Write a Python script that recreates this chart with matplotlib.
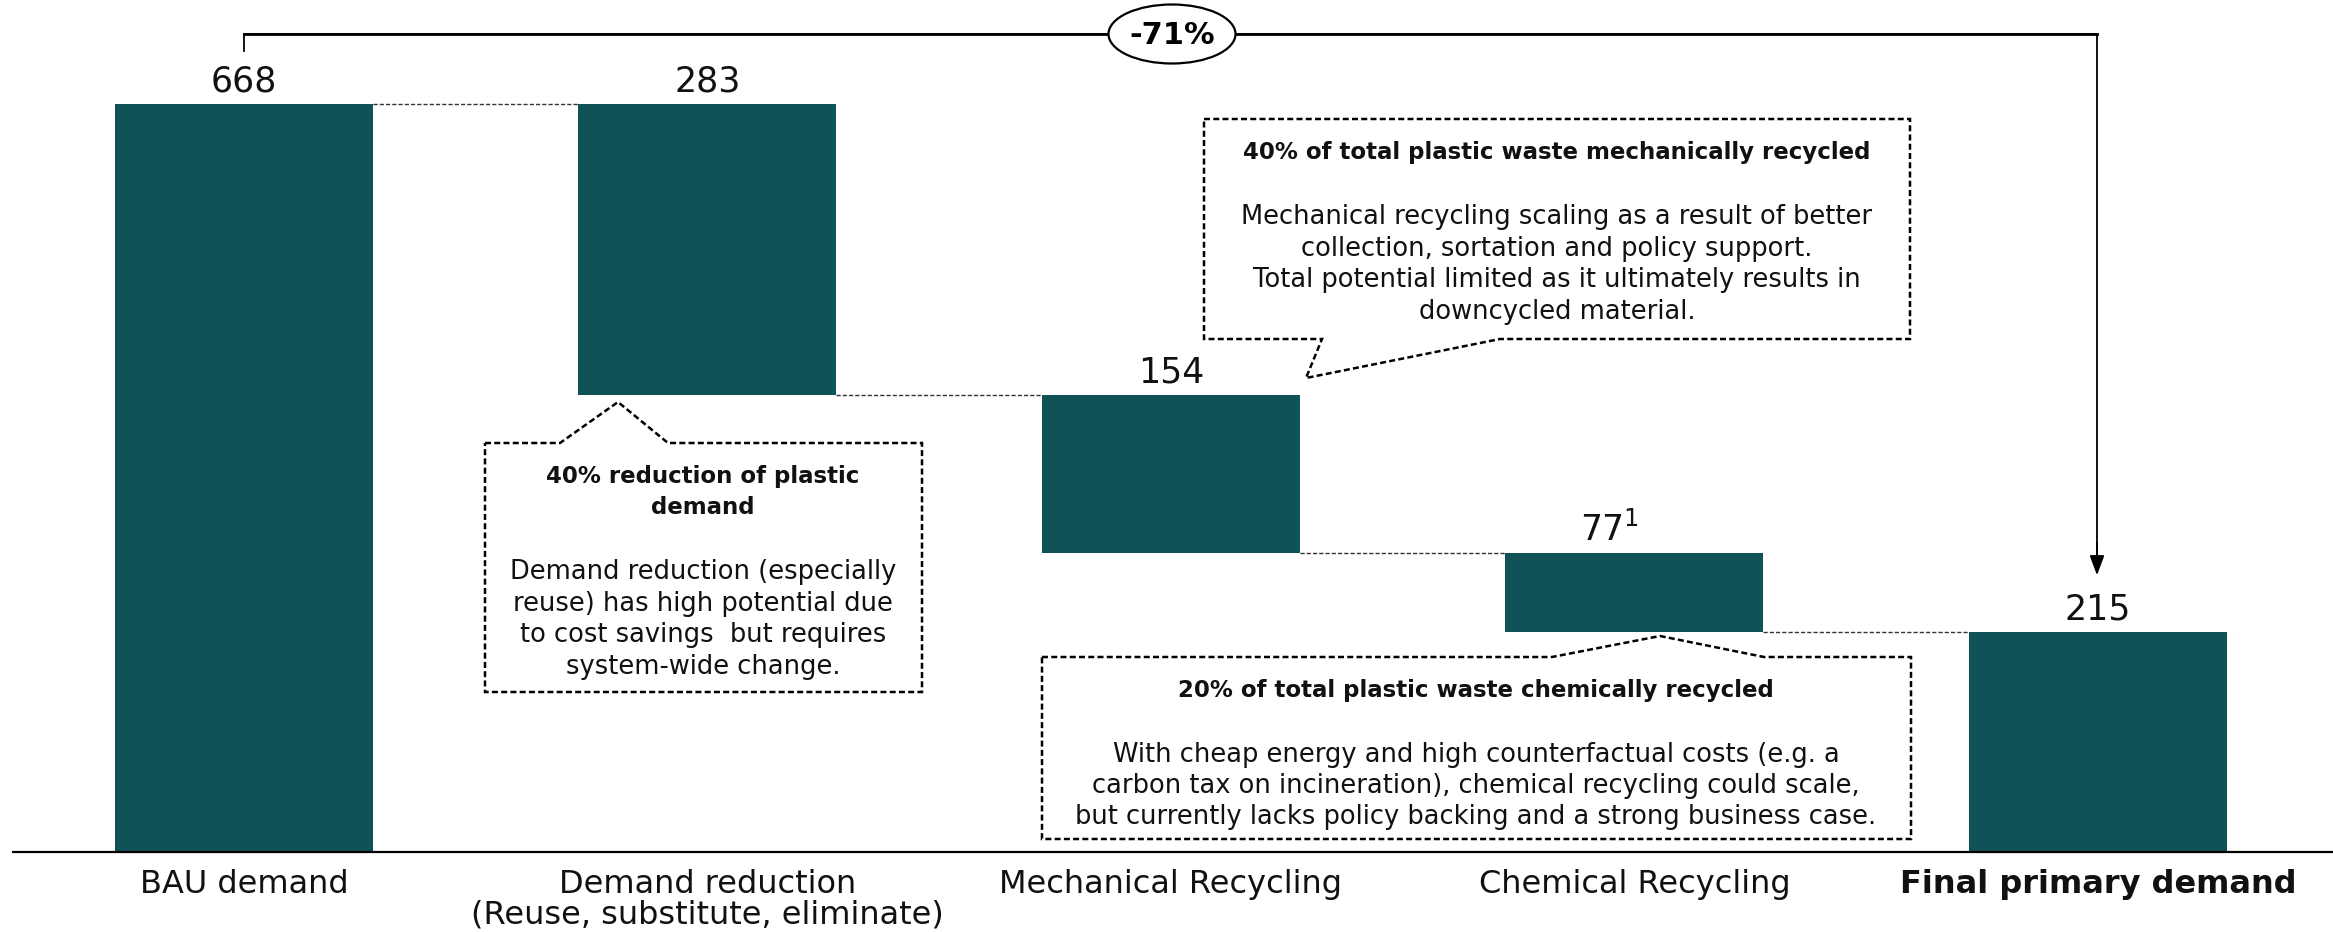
import matplotlib
matplotlib.use("Agg")
import matplotlib.pyplot as plt
from matplotlib.patches import Polygon, Ellipse
from matplotlib.transforms import blended_transform_factory

plt.rcParams['font.family'] = ['DejaVu Sans']

# data (bar levels are as drawn, labels as printed)
categories = ["BAU demand", "Demand reduction\n(Reuse, substitute, eliminate)",
              "Mechanical Recycling", "Chemical Recycling", "Final primary demand"]
value_labels = ["668", "283", "154", "77$^{1}$", "215"]
bar_tops = [668, 668, 408, 267, 196.5]
bar_bottoms = [0, 408, 267, 196.5, 0]
total_change = "-71%"

TEAL = '#0f5257'
W, H = 2333, 932

fig = plt.figure(figsize=(W / 100, H / 100), dpi=100)
ax = fig.add_axes([0, 0, 1, 1])
ax.set_xlim(-244 / 463.5, (W - 244) / 463.5)
ax.set_ylim(-80 / 1.1198, 852 / 1.1198)
ax.axis('off')

# overlay in pixel coords for the callouts
ov = fig.add_axes([0, 0, 1, 1], zorder=3)
ov.set_xlim(0, W)
ov.set_ylim(H, 0)
ov.axis('off')
ov.patch.set_alpha(0)

xs = list(range(len(categories)))
heights = [t - b for t, b in zip(bar_tops, bar_bottoms)]
bw = 258 / 463.5
ax.bar(xs, heights, bottom=bar_bottoms, width=bw, color=TEAL, zorder=2)

# connectors
for i in range(len(xs) - 1):
    lvl = bar_tops[i] if bar_bottoms[i] == 0 else bar_bottoms[i]
    ax.plot([xs[i] + bw / 2, xs[i + 1] - bw / 2], [lvl, lvl], color='#333333',
            lw=1.0, linestyle=(0, (3, 1.5)), zorder=1)

# value labels
x_shift = [0, 0, 0, -18, 0]
for i, lab in enumerate(value_labels):
    ax.annotate(lab, (xs[i], bar_tops[i]), xytext=(x_shift[i], 9), textcoords='offset points',
                ha='center', va='baseline', fontsize=25, color='#111111')

# baseline
ov.plot([12, W], [852, 852], color='black', lw=1.6, solid_capstyle='butt')

# category labels
bt = blended_transform_factory(ax.transData, ov.transData)
for i, c in enumerate(categories):
    bold = (i == len(categories) - 1)
    for k, line in enumerate(c.split('\n')):
        ax.text(xs[i], 893 + k * 31, line, transform=bt, ha='center', va='baseline',
                fontsize=23, fontweight='bold' if bold else 'normal', color='#111111')

# bracket with total change
x0 = 244
x1 = 2097
ov.plot([x0, x0, x1, x1], [51, 34, 34, 560], color='black', lw=1.3, zorder=2)
ov.plot([x0, x1], [34, 34], color='black', lw=2.0, zorder=2)
ov.annotate('', xy=(x1, 578), xytext=(x1, 540),
            arrowprops=dict(arrowstyle='-|>,head_length=1.2,head_width=0.45', color='black', lw=1.3))
ov.add_patch(Ellipse((1172, 34), 127, 59, facecolor='white', edgecolor='black', lw=1.6, zorder=4))
ov.text(1172, 35, total_change, ha='center', va='center', fontsize=22, fontweight='bold', zorder=5)

# callouts
dash = (0, (2.4, 1.3))


def callout(verts, title_lines, title_y, body_lines, body_y, pitch, cx):
    ov.add_patch(Polygon(verts, closed=True, facecolor='white', edgecolor='black',
                         lw=1.8, linestyle=dash, zorder=2))
    for k, t in enumerate(title_lines):
        ov.text(cx, title_y + k * 30, t, ha='center', va='center', fontsize=16.5,
                fontweight='bold', color='#111111', zorder=3)
    for k, t in enumerate(body_lines):
        ov.text(cx, body_y + k * pitch, t, ha='center', va='center', fontsize=18.5,
                color='#111111', zorder=3)


callout([(485, 443), (560, 443), (618, 402), (668, 443), (922, 443), (922, 692), (485, 692)],
        ["40% reduction of plastic", "demand"], 477,
        ["Demand reduction (especially", "reuse) has high potential due",
         "to cost savings  but requires", "system-wide change."], 572, 31.7, 703)

callout([(1204, 119), (1910, 119), (1910, 339), (1500, 339), (1306, 378), (1322, 339), (1204, 339)],
        ["40% of total plastic waste mechanically recycled"], 153,
        ["Mechanical recycling scaling as a result of better",
         "collection, sortation and policy support.",
         "Total potential limited as it ultimately results in",
         "downcycled material."], 217, 31.7, 1557)

callout([(1042, 657), (1552, 657), (1660, 636), (1764, 657), (1911, 657), (1911, 839), (1042, 839)],
        ["20% of total plastic waste chemically recycled"], 690,
        ["With cheap energy and high counterfactual costs (e.g. a",
         "carbon tax on incineration), chemical recycling could scale,",
         "but currently lacks policy backing and a strong business case."], 755, 31, 1476)

fig.savefig('out.png', dpi=100)
